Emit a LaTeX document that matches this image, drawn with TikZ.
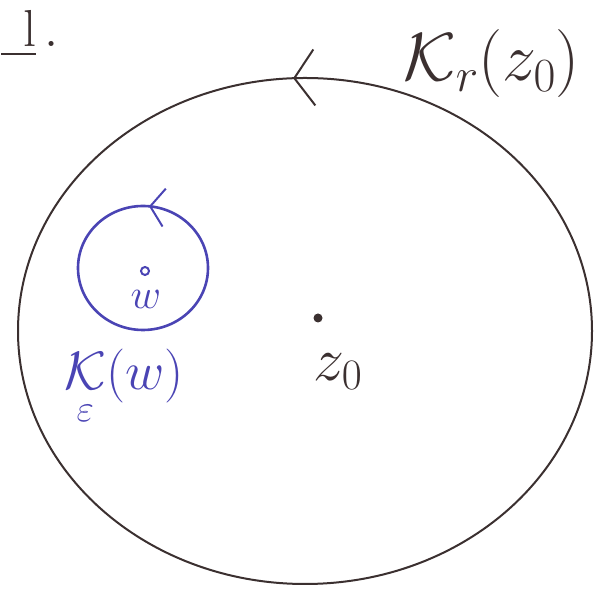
\RequirePackage{fix-cm}
\documentclass[tikz,border=0pt]{standalone}
\usepackage{amsmath,amssymb}
\usetikzlibrary{arrows.meta,decorations.markings}
\definecolor{inkblack}{HTML}{3B3030}
\definecolor{inkblue}{HTML}{4A44B4}

\begin{document}
\begin{tikzpicture}[x=1pt,y=1pt,
    pen/.style={line width=2pt},
    barb/.style 2 args={postaction={decorate},decoration={markings,
        mark=at position #1 with {\arrow[line width=2pt]{#2}}}}]
  \useasboundingbox (0,0) rectangle (605,596);
  \coordinate (c0) at (305,265);
  \coordinate (cw) at (143,328);
  % the two contours
  \draw[inkblack,pen,barb={0.257}{Straight Barb[length=20pt,width=56pt]}]
    (c0) circle[x radius=287,y radius=253];
  \draw[inkblue,line width=2.6pt,barb={0.235}{Straight Barb[length=14pt,width=38pt]}]
    (cw) circle[x radius=65,y radius=62];
  % points and labels
  \fill[inkblack] (318,278) circle[radius=4.5] coordinate (z0);
  \draw[inkblue,line width=2pt] (145,325) circle[radius=4] coordinate (w);
  \node[inkblack,font=\fontsize{62}{66}\selectfont] (z0lab) at (338,224) {$z_0$};
  \node[inkblue,font=\fontsize{42}{46}\selectfont] (wlab) at (146,297) {$w$};
  \node[inkblack,font=\fontsize{68}{74}\selectfont] (Krlab) at (492,532) {$\mathcal{K}_r(z_0)$};
  \node[inkblue,font=\fontsize{54}{60}\selectfont] (Kelab) at (124,208) {$\underset{\varepsilon}{\mathcal{K}}(w)$};
  \node[inkblack,font=\fontsize{52}{56}\selectfont,anchor=south west,inner sep=1pt] (frag) at (0,538) {$\underline{\hspace{22pt}\mathrm{l}}\,.$};
\end{tikzpicture}
\end{document}
